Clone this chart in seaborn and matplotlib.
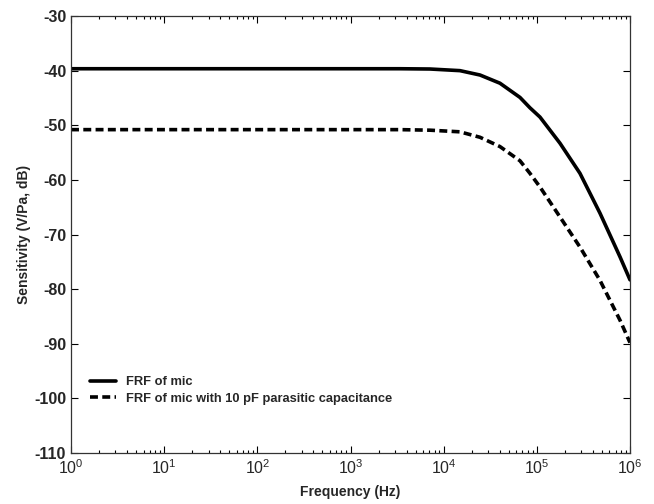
import numpy as np
import pandas as pd
import seaborn as sns
import matplotlib
matplotlib.use("Agg")
import matplotlib.pyplot as plt
from matplotlib.ticker import LogLocator, LogFormatterMathtext

# Frequency (Hz) sample points
freq = [1, 10, 100, 1000, 3400, 7130, 14960, 24550, 40180, 65920, 84330,
        108100, 177400, 290400, 476400, 781600, 1000000]
# FRF of mic (dB)
mic = [-39.65, -39.65, -39.65, -39.65, -39.65, -39.7, -40.0, -40.8, -42.3, -44.9,
       -46.8, -48.5, -53.3, -58.8, -66.1, -74.1, -78.3]
# FRF of mic with 10 pF parasitic capacitance (dB)
mic_cap = [-50.8, -50.8, -50.8, -50.8, -50.8, -50.9, -51.2, -52.2, -53.9, -56.5,
           -58.8, -61.3, -66.8, -72.3, -78.4, -85.7, -89.8]

labels = ["FRF of mic", "FRF of mic with 10 pF parasitic capacitance"]
y_ticks = list(range(-110, -29, 10))

df = pd.concat([
    pd.DataFrame({"Frequency": freq, "Sensitivity": mic, "Series": labels[0]}),
    pd.DataFrame({"Frequency": freq, "Sensitivity": mic_cap, "Series": labels[1]}),
])

sns.set_style("ticks")
plt.rcParams["font.family"] = ["Liberation Sans", "DejaVu Sans"]
plt.rcParams["axes.unicode_minus"] = False
plt.rcParams["mathtext.fontset"] = "custom"
plt.rcParams["mathtext.rm"] = "Liberation Sans:bold"
plt.rcParams["mathtext.it"] = "Liberation Sans:bold"
plt.rcParams["mathtext.bf"] = "Liberation Sans:bold"

fig = plt.figure(figsize=(6.54, 5.04), dpi=100)
ax = fig.add_axes([0.1086, 0.1012, 0.8547, 0.8670])

sns.lineplot(data=df, x="Frequency", y="Sensitivity", hue="Series", style="Series",
             palette=["black", "black"], dashes=[(None, None), (2.2, 1.2)],
             linewidth=2.6, ax=ax, estimator=None, sort=True)
ax.lines[1].set_linestyle((0, (2.2, 1.2)))
for ln in ax.lines:
    ln.set_solid_joinstyle("round")
    ln.set_dash_joinstyle("round")

ax.set_xscale("log")
ax.set_xlim(1, 1e6)
ax.set_ylim(-110, -30)
ax.set_yticks(y_ticks)
ax.xaxis.set_major_locator(LogLocator(base=10, numticks=10))
ax.xaxis.set_minor_locator(LogLocator(base=10, subs=np.arange(2, 10), numticks=20))
ax.xaxis.set_major_formatter(LogFormatterMathtext())

ax.tick_params(which="both", direction="in", top=True, right=True,
               labelsize=11.5, width=0.8, color="black")
ax.tick_params(which="major", length=5)
ax.tick_params(which="minor", length=2.5)
for lab in ax.get_yticklabels():
    lab.set_fontweight("bold")
for sp in ax.spines.values():
    sp.set_linewidth(0.9)
    sp.set_color("#333333")

ax.set_xlabel("Frequency (Hz)", fontsize=10, fontweight="bold", labelpad=6)
ax.set_ylabel("Sensitivity (V/Pa, dB)", fontsize=10, fontweight="bold", labelpad=2)

leg = ax.legend(loc="lower left", bbox_to_anchor=(0.018, 0.09), frameon=False,
                fontsize=9.3, handlelength=2.0, handletextpad=0.8, borderaxespad=0.3,
                labelspacing=0.35, title=None)
for t in leg.get_texts():
    t.set_fontweight("bold")
for h in leg.get_lines():
    h.set_linewidth(2.6)

fig.savefig("out.png", dpi=100)
